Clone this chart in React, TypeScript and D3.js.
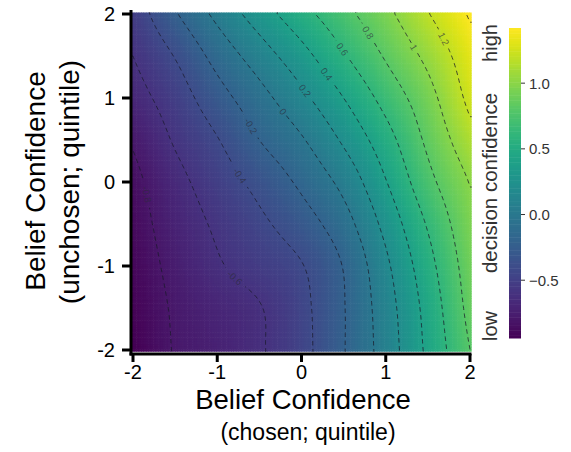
import React, { useMemo } from "react";
import * as d3 from "d3";

// Surface grid (x: chosen, y: unchosen), rows from y = 2 (top) to y = -2 (bottom)
const xGrid = [-2, -1.5, -1, -0.5, 0, 0.5, 1, 1.5, 2];
const yGrid = [2, 1.5, 1, 0.5, 0, -0.5, -1, -1.5, -2];
const rowY2 = [-0.52, -0.22, 0.05, 0.3, 0.53, 0.74, 0.95, 1.19, 1.42];
const rowY15 = [-0.6, -0.39, -0.13, 0.1, 0.33, 0.58, 0.82, 1.05, 1.32];
const rowY1 = [-0.68, -0.5, -0.28, -0.07, 0.15, 0.4, 0.67, 0.93, 1.25];
const rowY05 = [-0.78, -0.58, -0.41, -0.2, -0.02, 0.23, 0.52, 0.84, 1.13];
const rowY0 = [-0.85, -0.66, -0.5, -0.34, -0.16, 0.06, 0.39, 0.74, 1.01];
const rowYm05 = [-0.88, -0.71, -0.57, -0.44, -0.29, -0.08, 0.26, 0.62, 0.95];
const rowYm1 = [-0.9, -0.75, -0.62, -0.52, -0.41, -0.19, 0.16, 0.53, 0.9];
const rowYm15 = [-0.92, -0.78, -0.69, -0.61, -0.45, -0.21, 0.11, 0.47, 0.86];
const rowYm2 = [-0.94, -0.79, -0.72, -0.62, -0.46, -0.21, 0.09, 0.44, 0.8];
const surface = [rowY2, rowY15, rowY1, rowY05, rowY0, rowYm05, rowYm1, rowYm15, rowYm2];

const contourLevels = [-0.8, -0.6, -0.4, -0.2, 0, 0.2, 0.4, 0.6, 0.8, 1.0, 1.2, 1.4];
const labelLevels = [-0.8, -0.6, -0.4, -0.2, 0, 0.2, 0.4, 0.6, 0.8, 1.0, 1.2];
const labelTexts = ["-0.8", "-0.6", "-0.4", "-0.2", "0", "0.2", "0.4", "0.6", "0.8", "1", "1.2"];
const labelAtX = [-1.81, -0.83, -0.73, -0.61, -0.19, 0.05, 0.32, 0.48, 0.77, 1.36, 1.67];
const labelAtY = [-0.15, -1.18, 0.08, 0.67, 0.85, 1.1, 1.3, 1.57, 1.77, 1.62, 1.68];

const axisTicks = [-2, -1, 0, 1, 2];
const barTicks = [-0.5, 0, 0.5, 1.0];
const xTitle = ["Belief Confidence", "(chosen; quintile)"];
const yTitle = ["Belief Confidence", "(unchosen; quintile)"];
const barTitle = ["low", "decision confidence", "high"];

const FONT = "'Liberation Sans', Arial, Helvetica, sans-serif";

function cubic(p0: number, p1: number, p2: number, p3: number, t: number) {
  return p1 + 0.5 * t * (p2 - p0 + t * (2 * p0 - 5 * p1 + 4 * p2 - p3 + t * (3 * (p1 - p2) + p3 - p0)));
}

function getVal(r: number, c: number): number {
  const n = xGrid.length;
  const m = yGrid.length;
  if (r < 0) return 2 * getVal(0, c) - getVal(1, c);
  if (r >= m) return 2 * getVal(m - 1, c) - getVal(m - 2, c);
  if (c < 0) return 2 * getVal(r, 0) - getVal(r, 1);
  if (c >= n) return 2 * getVal(r, n - 1) - getVal(r, n - 2);
  return surface[r][c];
}

function sample(xv: number, yv: number) {
  const n = xGrid.length - 1;
  const fx = Math.max(0, Math.min(n, ((xv - xGrid[0]) / (xGrid[n] - xGrid[0])) * n));
  const fy = Math.max(0, Math.min(n, ((yGrid[0] - yv) / (yGrid[0] - yGrid[n])) * n));
  const ix = Math.min(n - 1, Math.floor(fx));
  const iy = Math.min(n - 1, Math.floor(fy));
  const tx = fx - ix;
  const ty = fy - iy;
  const cols = [-1, 0, 1, 2].map((dr) =>
    cubic(getVal(iy + dr, ix - 1), getVal(iy + dr, ix), getVal(iy + dr, ix + 1), getVal(iy + dr, ix + 2), tx)
  );
  return cubic(cols[0], cols[1], cols[2], cols[3], ty);
}

export default function App() {
  const W = 571;
  const H = 452;
  const x = d3.scaleLinear().domain([-2, 2]).range([133, 470]);
  const y = d3.scaleLinear().domain([-2, 2]).range([350, 14]);
  const flat = surface.flat();
  const vmin = d3.min(flat) as number;
  const vmax = d3.max(flat) as number;
  const color = d3.scaleSequential(d3.interpolateViridis).domain([vmin, vmax]);
  const barY = d3.scaleLinear().domain([vmin, vmax]).range([338, 28]);

  const ext = 2.02;
  const N = 140;
  const step = (2 * ext) / N;

  const cells = useMemo(() => {
    const out: { x: number; y: number; w: number; h: number; c: string }[] = [];
    for (let j = 0; j < N; j++) {
      for (let i = 0; i < N; i++) {
        const cx = -ext + (i + 0.5) * step;
        const cy = ext - (j + 0.5) * step;
        const v = sample(cx, cy);
        const x0 = x(-ext + i * step);
        const x1 = x(-ext + (i + 1) * step);
        const y0 = y(ext - j * step);
        const y1 = y(ext - (j + 1) * step);
        out.push({ x: x0, y: y0, w: x1 - x0 + 0.6, h: y1 - y0 + 0.6, c: color(v) as string });
      }
    }
    return out;
  }, []);

  const { paths, labels } = useMemo(() => {
    const n = 171;
    const ext2 = 2.1;
    const st = (2 * ext2) / (n - 1);
    const values = new Array(n * n);
    for (let j = 0; j < n; j++)
      for (let i = 0; i < n; i++) values[i + j * n] = sample(-ext2 + i * st, ext2 - j * st);
    const conts = d3.contours().size([n, n]).thresholds(contourLevels)(values);
    const toPx = (cx: number, cy: number): [number, number] => [
      x(-ext2 + (cx - 0.5) * st),
      y(ext2 - (cy - 0.5) * st),
    ];
    const proj = d3.geoTransform({
      point(px: number, py: number) {
        const p = toPx(px, py);
        (this as any).stream.point(p[0], p[1]);
      },
    });
    const gp = d3.geoPath(proj);
    const paths = conts.map((c) => ({ value: c.value, d: gp(c as any) || "" }));
    const labels = labelLevels.map((lv, k) => {
      const c = conts.find((cc) => Math.abs(cc.value - lv) < 1e-9);
      const ax = x(labelAtX[k]);
      const ay = y(labelAtY[k]);
      let best = { d: Infinity, px: ax, py: ay, ang: 0 };
      if (c) {
        c.coordinates.forEach((poly) =>
          poly.forEach((ring) => {
            const pts = ring.map((p) => toPx(p[0], p[1]));
            for (let q = 0; q < pts.length; q++) {
              const p = pts[q];
              if (p[0] < x(-2) || p[0] > x(2) || p[1] < y(2) || p[1] > y(-2)) continue;
              const dd = (p[0] - ax) ** 2 + (p[1] - ay) ** 2;
              if (dd < best.d) {
                const a = pts[Math.max(0, q - 3)];
                const b = pts[Math.min(pts.length - 1, q + 3)];
                let ang = (Math.atan2(b[1] - a[1], b[0] - a[0]) * 180) / Math.PI;
                if (ang > 90) ang -= 180;
                if (ang < -90) ang += 180;
                best = { d: dd, px: p[0], py: p[1], ang };
              }
            }
          })
        );
      }
      return { text: labelTexts[k], x: best.px, y: best.py, ang: best.ang };
    });
    return { paths, labels };
  }, []);

  const barSteps = d3.range(0, 120);
  const barTop = 28;
  const barBot = 338;

  return (
    <svg width={W} height={H} style={{ position: "absolute", left: 0, top: 0, background: "#fff" }} fontFamily={FONT}>
      <defs>
        <clipPath id="panel">
          <rect x={x(-ext)} y={y(ext)} width={x(ext) - x(-ext)} height={y(-ext) - y(ext)} />
        </clipPath>
        <mask id="gaps">
          <rect x={0} y={0} width={W} height={H} fill="white" />
          {labels.map((l, i) => (
            <rect
              key={i}
              x={-(l.text.length * 2.9 + 2)}
              y={-4.5}
              width={l.text.length * 5.8 + 4}
              height={9}
              fill="black"
              transform={`translate(${l.x},${l.y}) rotate(${l.ang})`}
            />
          ))}
        </mask>
      </defs>
      <g clipPath="url(#panel)">
        {cells.map((c, i) => (
          <rect key={i} x={c.x} y={c.y} width={c.w} height={c.h} fill={c.c} />
        ))}
        <g mask="url(#gaps)">
          {paths.map((p, i) => (
            <path key={i} d={p.d} fill="none" stroke="#1a1a2a" strokeOpacity={0.75} strokeWidth={1} strokeDasharray="4.5 3.5" />
          ))}
        </g>
        {labels.map((l, i) => (
          <text
            key={i}
            transform={`translate(${l.x},${l.y}) rotate(${l.ang})`}
            textAnchor="middle"
            dominantBaseline="central"
            fontSize={9.5}
            fill="#2a2a3a"
            fillOpacity={0.65}
          >
            {l.text}
          </text>
        ))}
      </g>
      {/* axes */}
      <line x1={131} x2={131} y1={10} y2={355.5} stroke="#000" strokeWidth={3} />
      <line x1={129.5} x2={471.5} y1={354} y2={354} stroke="#000" strokeWidth={3} />
      {axisTicks.map((t) => (
        <g key={"y" + t}>
          <line x1={122} x2={131} y1={y(t)} y2={y(t)} stroke="#000" strokeWidth={3} />
          <text x={115} y={y(t)} textAnchor="end" dominantBaseline="central" fontSize={20} fill="#000">
            {t}
          </text>
        </g>
      ))}
      {axisTicks.map((t) => (
        <g key={"x" + t}>
          <line x1={x(t)} x2={x(t)} y1={354} y2={362} stroke="#000" strokeWidth={3} />
          <text x={x(t)} y={379} textAnchor="middle" fontSize={20} fill="#000">
            {t}
          </text>
        </g>
      ))}
      <text x={303} y={409} textAnchor="middle" fontSize={27.5} fill="#000">
        {xTitle[0]}
      </text>
      <text x={308} y={440} textAnchor="middle" fontSize={23} fill="#000">
        {xTitle[1]}
      </text>
      <text transform={`translate(45,181) rotate(-90)`} textAnchor="middle" fontSize={28} fill="#000">
        {yTitle[0]}
      </text>
      <text transform={`translate(79,182) rotate(-90)`} textAnchor="middle" fontSize={28} fill="#000">
        {yTitle[1]}
      </text>
      {/* colorbar */}
      {barSteps.map((k) => {
        const v0 = vmin + ((vmax - vmin) * k) / barSteps.length;
        const v1 = vmin + ((vmax - vmin) * (k + 1)) / barSteps.length;
        return (
          <rect
            key={k}
            x={509}
            y={barY(v1)}
            width={12}
            height={barY(v0) - barY(v1) + 0.5}
            fill={color((v0 + v1) / 2) as string}
          />
        );
      })}
      {barTicks.map((t) => (
        <g key={"b" + t}>
          <line x1={521} x2={525} y1={barY(t)} y2={barY(t)} stroke="#333" strokeWidth={1} />
          <text x={529} y={barY(t)} dominantBaseline="central" fontSize={15} fill="#333">
            {d3.format(".1f")(t)}
          </text>
        </g>
      ))}
      <text transform={`translate(497,${(barTop + barBot) / 2}) rotate(-90)`} textAnchor="middle" fontSize={20.5} fill="#333">
        {barTitle[1]}
      </text>
      <text transform={`translate(497,326) rotate(-90)`} textAnchor="middle" fontSize={20} fill="#333">
        {barTitle[0]}
      </text>
      <text transform={`translate(497,43) rotate(-90)`} textAnchor="middle" fontSize={20} fill="#333">
        {barTitle[2]}
      </text>
    </svg>
  );
}
